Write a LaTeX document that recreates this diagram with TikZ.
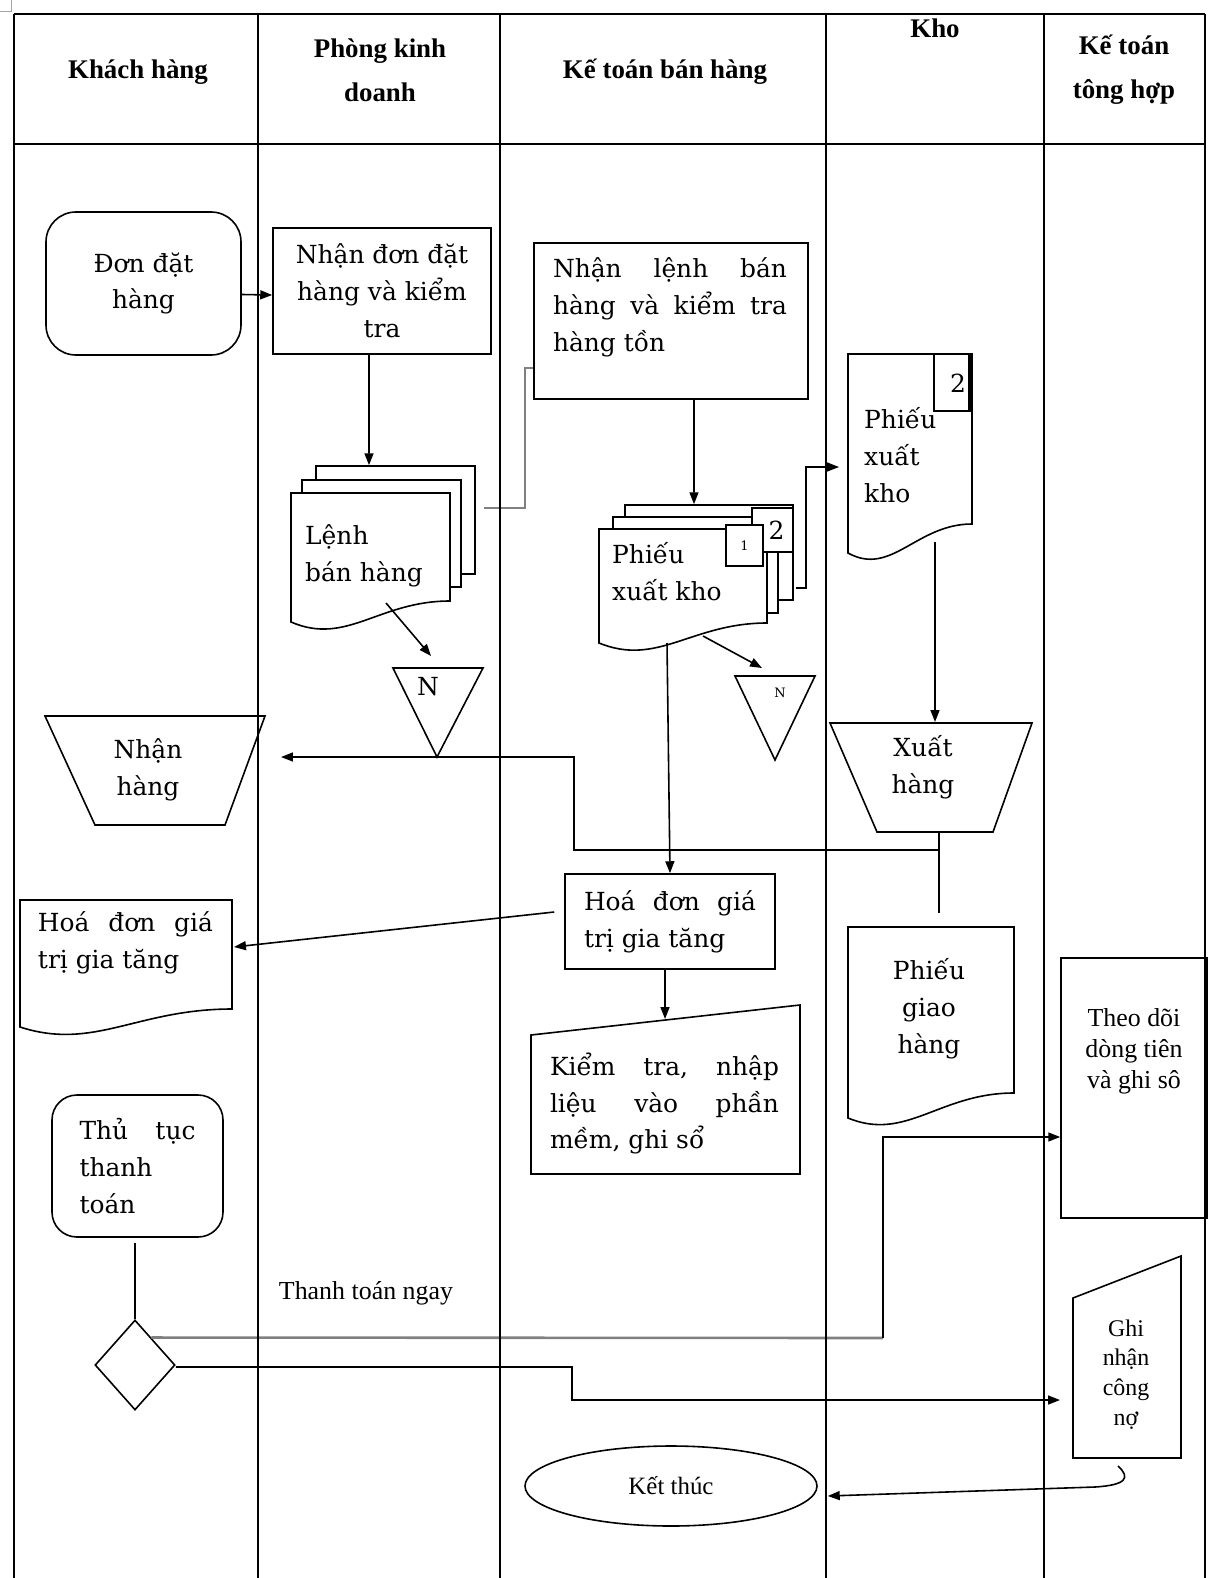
\documentclass[tikz,border=0pt]{standalone}
\usepackage{fontspec}
\setmainfont{DejaVu Serif}
\newfontfamily\tnr{Liberation Serif}
\usetikzlibrary{arrows.meta,shapes.geometric}
\newcommand\mydocpath[5]{(#1,#2) -- (#3,#2) -- (#3,#4) .. controls ({#1+0.55*(#3-#1)},#4) and ({#1+0.35*(#3-#1)},{#5+24}) .. (#1,#5) -- cycle}
\begin{document}
\begin{tikzpicture}[x=1bp,y=-1bp,
  ln/.style={line width=1.6pt},
  tl/.style={line width=2pt},
  gl/.style={line width=2.6pt,draw=black!50},
  arr/.style={line width=1.6pt,-{Triangle[length=12pt,width=9pt]}},
  shp/.style={line width=1.6pt,fill=white},
  box/.style={draw,line width=1.6pt,fill=white,inner sep=0pt},
  txt/.style={font=\fontsize{25}{37}\selectfont,inner sep=0pt,align=center},
  hd/.style={font=\tnr\bfseries\fontsize{27}{44}\selectfont,inner sep=0pt,align=center},
  sm/.style={font=\tnr\fontsize{26}{31}\selectfont,inner sep=0pt,align=center},
]
\useasboundingbox (0,0) rectangle (1219,1578);
\fill[white] (0,0) rectangle (1219,1578);
\draw[black!35,line width=0.8pt] (0,11) -- (11,11) -- (11,0);

% headers
\node[hd] (h1) at (138,72) {Khách hàng};
\node[hd] (h2) at (380,70) {Phòng kinh\\doanh};
\node[hd] (h3) at (665,72) {Kế toán bán hàng};
\node[hd] (h4) at (935,28) {Kho};
\node[hd] (h5) at (1124,70) {Kế toán\\tông hợp};

% Don dat hang
\node[box,txt,rounded corners=30pt,minimum width=195bp,minimum height=143bp] (don) at (143.5,283.5) {Đơn đặt\\hàng};
\node[box,txt,minimum width=218bp,minimum height=126bp] (nd) at (382,291) {Nhận đơn đặt\\hàng và kiểm\\tra};
\draw[arr] ([yshift=-11bp]don.east) -- ([yshift=-4bp]nd.west);

% Nhan lenh
\node[box,minimum width=274bp,minimum height=156bp] (nl) at (671,321) {};
\node[txt,align=left] (nlt) at (670,307.5) {\hbox to 234bp{Nhận\hfill lệnh\hfill bán}\\\hbox to 234bp{hàng\hfill và\hfill kiểm\hfill tra}\\hàng tồn};

% Lenh ban hang (multi document)
\node[box,minimum width=159bp,minimum height=108bp] (lenhB) at (395.5,520) {};
\node[box,minimum width=159bp,minimum height=107bp] (lenhM) at (381.5,533.5) {};
\draw[shp] \mydocpath{291}{493}{450}{601}{622};
\node[txt,align=left,anchor=west] (lenh) at (305,556) {Lệnh\\bán hàng};
\coordinate (lenhbot) at (386,603);
\draw[arr] ([xshift=-13bp]nd.south) -- ([xshift=-26.5bp]lenhB.north);
\coordinate (j1) at (525,368);
\draw[gl] ([xshift=8bp,yshift=12bp]lenhB.east) -| (j1) -- (nl.west |- j1);

% N1
\draw[shp] (393,668) -- (483,668) -- (437,757) -- cycle;
\node[txt] (n1) at (428,687) {N};
\coordinate (n1top) at (431,656);
\draw[arr] (lenhbot) -- (n1top);

% Phieu xuat kho (multi)
\node[box,minimum width=168bp,minimum height=95bp] (pxB) at (709,552.5) {};
\node[box,minimum width=165bp,minimum height=96bp] (pxM) at (695.5,565) {};
\draw[shp] \mydocpath{599}{529}{767}{623}{643};
\node[box,txt,minimum width=41bp,minimum height=44bp] (b2) at (772.5,530) {\hspace*{8bp}2};
\node[box,minimum width=37bp,minimum height=41bp,font=\fontsize{13}{13}\selectfont] (b1) at (744.5,545.5) {1};
\node[txt,align=left,anchor=west] (px) at (612,571.5) {Phiếu\\xuất kho};
\draw[arr] ([xshift=23bp]nl.south) -- ([xshift=-15bp]pxB.north);
\coordinate (pxbot) at (667,643);
\coordinate (pxbot2) at (703,636);

% N2
\draw[shp] (735,676) -- (815,676) -- (775,760) -- cycle;
\node[font=\fontsize{13}{13}\selectfont,inner sep=0pt] (n2) at (780,693) {N};
\coordinate (n2top) at (762,668);
\draw[arr] (pxbot2) -- (n2top);

\coordinate (j2) at (806,467);
\coordinate (pxkin) at (839,467);
\draw[arr] ([xshift=2bp,yshift=-35.5bp]pxB.east) -| (j2) -- (pxkin);

% Phieu xuat kho (Kho)
\draw[shp] \mydocpath{848}{354}{972}{524}{553};
\draw[ln] (934,354) rectangle (972,411);
\draw[line width=4pt] (970,354) -- (970,411);
\node[txt] (k2) at (958,383) {2};
\node[txt,align=left,anchor=west] (pxk) at (864,455) {Phiếu\\xuất\\kho};
\coordinate (pxkbot) at (935,542);

% Xuat hang
\draw[shp] (830,723) -- (1032,723) -- (993,832) -- (877,832) -- cycle;
\node[txt] (xh) at (923,767) {Xuất\\hàng};
\coordinate (xhtop) at (935,722);
\draw[arr] (pxkbot) -- (xhtop);
\coordinate (xhbot) at (939,832);
\coordinate (pgtop) at (939,927);
\draw[ln,shorten >=14bp] (xhbot) -- (pgtop);
\coordinate (j3) at (939,850);
\coordinate (j4) at (574,757);
\coordinate (nhin) at (281,757);
\draw[arr] (j3) -| (j4) -- (nhin);

% Nhan hang
\draw[ln] (45,716) -- (265,716) -- (225,825) -- (95,825) -- cycle;
\node[txt] (nh) at (148,770) {Nhận\\hàng};

% Hoa don (rect)
\node[box,txt,align=left,minimum width=210bp,minimum height=95bp] (hd) at (670,921.5) {\hbox to 172bp{Hoá\hfill đơn\hfill giá}\\trị gia tăng};
\draw[arr] (pxbot) -- (hd.north);

% Hoa don (document)
\draw[shp] \mydocpath{20}{900}{232}{1009}{1027};
\node[txt,align=left] (hdd) at (125.5,943) {\hbox to 175bp{Hoá\hfill đơn\hfill giá}\\trị gia tăng};
\coordinate (hddin) at (234,947);
\draw[arr] ([xshift=-10bp,yshift=9.5bp]hd.west) -- (hddin);

% Kiem tra
\draw[shp] (531,1035) -- (800,1005) -- (800,1174) -- (531,1174) -- cycle;
\node[txt,align=left] (kt) at (664.5,1103.5) {\hbox to 229bp{Kiểm\hfill tra,\hfill nhập}\\\hbox to 229bp{liệu\hfill vào\hfill phần}\\mềm, ghi sổ};
\coordinate (kttop) at (665,1019);
\draw[arr] ([xshift=-5bp]hd.south) -- (kttop);

% Phieu giao hang
\draw[shp] \mydocpath{848}{927}{1014}{1093}{1118};
\node[txt] (pg) at (929,1009) {Phiếu\\giao\\hàng};

% Theo doi
\node[draw,line width=1.6pt,inner sep=0pt,minimum width=146bp,minimum height=260bp] (td) at (1134,1088) {};
\node[sm] (tdt) at (1134,1051.5) {Theo dõi\\dòng tiên\\và ghi sô};

% Thu tuc
\node[box,txt,align=left,rounded corners=25pt,minimum width=171bp,minimum height=142bp] (tt) at (137.5,1166) {\hbox to 116bp{Thủ\hfill tục}\\thanh\\toán};
\node[draw,diamond,line width=1.6pt,minimum width=80bp,minimum height=90bp,inner sep=0pt] (dia) at (135,1365) {};
\draw[ln] ([yshift=-5bp]tt.south -| dia.north) -- (dia.north);
\path (dia.north) -- (dia.east) coordinate[pos=0.4] (dne);
\coordinate (j5) at (883,1338);
\draw[gl] (dne) -- (j5);
\draw[arr] (j5) |- ([yshift=-49bp]td.west);
\coordinate (j6) at (572,1367);
\coordinate (gnin) at (1060,1400);
\draw[arr] ([yshift=-2bp]dia.east) -- (j6) |- (gnin);
\node[sm] (ttn) at (366,1293) {Thanh toán ngay};

% Ghi nhan cong no
\draw[shp] (1073,1298) -- (1181,1256) -- (1181,1458) -- (1073,1458) -- cycle;
\node[sm,font=\tnr\fontsize{24}{30}\selectfont] (gn) at (1126,1374.5) {Ghi\\nhận\\công\\nợ};

% Ket thuc
\node[draw,ellipse,line width=1.6pt,minimum width=292bp,minimum height=80bp,inner sep=0pt,font=\tnr\fontsize{25}{30}\selectfont] (kt2) at (671,1486) {Kết thúc};
\coordinate (gnbot) at (1118,1466);
\draw[arr] (gnbot) .. controls (1131,1478) and (1126,1485) .. (1095,1487) -- ([xshift=10bp,yshift=-10bp]kt2.east);

% table lines
\draw[tl] (14,14) -- (1205,14);
\draw[tl] (14,144) -- (1205,144);
\foreach \x in {14,258,500,826,1044,1205} \draw[tl] (\x,14) -- (\x,1578);
\end{tikzpicture}
\end{document}
